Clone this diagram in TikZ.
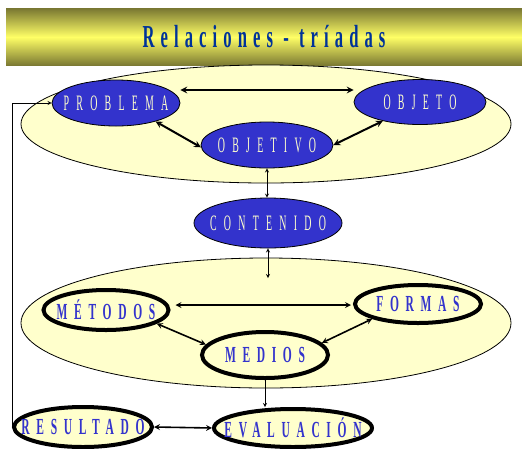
\documentclass[tikz,border=0pt]{standalone}
\usepackage{fontspec}
\setmainfont{Liberation Serif}
\newfontfamily\ovalfont[FakeStretch=0.45,LetterSpace=33]{Liberation Serif}
\newfontfamily\ringfont[FakeStretch=0.5,LetterSpace=29]{Liberation Serif}
\newfontfamily\titlefont[FakeStretch=0.52,LetterSpace=19]{Liberation Serif}
\usepackage{tikz}
\usetikzlibrary{positioning}
\usetikzlibrary{shapes.geometric}
\definecolor{ovalblue}{RGB}{51,51,204}
\definecolor{paleyel}{RGB}{255,255,204}
\definecolor{barolive}{RGB}{122,120,50}
\definecolor{baryel}{RGB}{255,255,102}
\definecolor{titleblue}{RGB}{0,51,153}
\newcommand{\nt}[1]{\makebox[0pt]{#1}} % text must not widen the oval

\begin{document}
\begin{tikzpicture}[x=1pt, y=-1pt, >=stealth,
    bar/.style = {rectangle, minimum width=516pt, minimum height=57pt, top color=barolive, bottom color=barolive, middle color=baryel, text=titleblue, font=\titlefont\bfseries\fontsize{32}{32}\selectfont},
    big/.style = {ellipse, draw, fill=paleyel, line width=0.8pt, inner sep=0pt},
    ovl/.style = {ellipse, draw, line width=0.8pt, fill=ovalblue, text=paleyel, inner sep=0pt, font=\ovalfont\fontsize{22}{22}\selectfont},
    ring/.style = {ellipse, draw, line width=4pt, fill=paleyel, text=ovalblue, inner sep=0pt, font=\ringfont\bfseries\fontsize{23}{23}\selectfont},
    link/.style = {<->, line width=2pt},
    link2/.style = {<->, line width=1.6pt},
    lead/.style = {line width=0.8pt}]
    \useasboundingbox (0,0) rectangle (522,448);
    \node[bar] (0) at (264,37) {Relaciones - tríadas};
    \node[big, minimum width=490pt, minimum height=118pt] (up) at (266,124) {};
    \node[big, minimum width=490pt, minimum height=130pt] (down) at (266,323) {};
    % upper triad
    \node[ovl, minimum width=128pt, minimum height=46pt] (1) at (116,103) {\nt{PROBLEMA}};
    \node[ovl, minimum width=132pt, minimum height=45pt] (2) at (420,102) {\nt{OBJETO}};
    \node[ovl, minimum width=132pt, minimum height=46pt] (3) at (267,145) {\nt{OBJETIVO}};
    \node[ovl, minimum width=148pt, minimum height=50pt] (4) at (268,223) {\nt{CONTENIDO}};
    % lower triad
    \node[ring, minimum width=125pt, minimum height=40pt] (5) at (106,310) {\nt{MÉTODOS}};
    \node[ring, minimum width=126pt, minimum height=38pt] (6) at (418,304) {\nt{FORMAS}};
    \node[ring, minimum width=126pt, minimum height=46pt] (7) at (265,355) {\nt{MEDIOS}};
    \node[ring, minimum width=138pt, minimum height=40pt] (8) at (83,427) {\nt{RESULTADO}};
    \node[ring, minimum width=158pt, minimum height=38pt] (9) at (293,428) {\nt{EVALUACIÓN}};
    \coordinate (c) at (268,278); % end inside the lower oval
    \draw[link] ([yshift=13pt]1.east) -- ([yshift=12pt]2.west);
    \draw[link] (1.-25) -- (3.182);
    \draw[link] (3.0) -- (2.207);
    \draw[lead, <->] (3.south) -- (3.south |- 4.north);
    \draw[lead, <->] (4.south) -- (c);
    \draw[link2] ([xshift=5pt, yshift=5pt]5.east) -- ([xshift=-2pt, yshift=-1pt]6.west);
    \draw[link2] (5.-15) -- (7.170);
    \draw[link2] (7.12) -- (6.198);
    \draw[lead, ->] (7.south) -- (7.south |- 9.north);
    \draw[link2] (8.east) -- (9.west);
    \draw[lead, ->] (8.west) |- (1.west);
\end{tikzpicture}
\end{document}
